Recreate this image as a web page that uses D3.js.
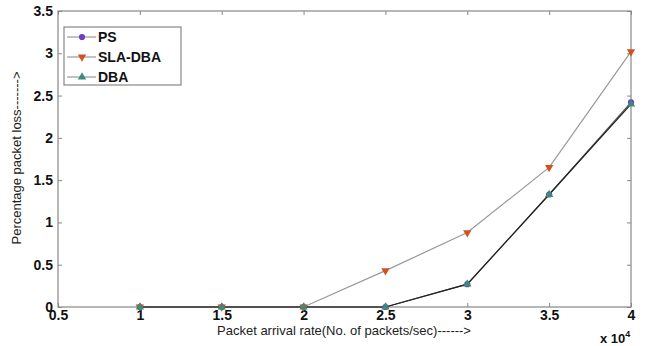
<!DOCTYPE html>
<html>
<head>
<meta charset="utf-8">
<script src="https://cdn.jsdelivr.net/npm/d3@7"></script>
<style>
body { margin: 0; background: #fff; }
text { font-family: Arial, "Liberation Sans", sans-serif; }
</style>
</head>
<body>
<svg id="chart" width="646" height="346" viewBox="0 0 646 346"></svg>
<script>
let xValues = [1, 1.5, 2, 2.5, 3, 3.5, 4];
let psLoss = [0, 0, 0, 0, 0.27, 1.33, 2.42];
let slaLoss = [0, 0, 0, 0.43, 0.88, 1.65, 3.02];
let dbaLoss = [0, 0, 0, 0, 0.27, 1.33, 2.40];
let xTicks = [0.5, 1, 1.5, 2, 2.5, 3, 3.5, 4];
let yTicks = [0, 0.5, 1, 1.5, 2, 2.5, 3, 3.5];

let series = [
    {name: "PS", values: psLoss, color: "#6b3fc0", line: "#555", symbol: d3.symbolCircle},
    {name: "SLA-DBA", values: slaLoss, color: "#d4501c", line: "#999", symbol: d3.symbolTriangle, flip: true},
    {name: "DBA", values: dbaLoss, color: "#3c8a7a", line: "#222", symbol: d3.symbolTriangle}
];

let chart = d3.select("#chart");
let margins = {top: 11, right: 15, bottom: 39, left: 58};
let innerWidth = 646 - margins.left - margins.right;
let innerHeight = 346 - margins.top - margins.bottom;

let x = d3.scaleLinear([0.5, 4], [0, innerWidth]);
let y = d3.scaleLinear([0, 3.5], [innerHeight, 0]);

let g = chart.append("g").attr("transform", `translate(${margins.left},${margins.top})`);

g.append("rect")
    .attr("width", innerWidth).attr("height", innerHeight)
    .attr("fill", "white").attr("stroke", "#888").attr("stroke-width", 1.2);

// inward ticks on all four sides
function styleAxis(sel) {
    sel.select(".domain").remove();
    sel.selectAll(".tick line").attr("stroke", "#888");
    sel.selectAll(".tick text").attr("font-size", 14).attr("font-weight", "bold").attr("fill", "#111");
}
g.append("g").attr("transform", `translate(0,${innerHeight})`)
    .call(d3.axisBottom(x).tickValues(xTicks).tickSize(-4).tickPadding(3).tickFormat(d3.format("")))
    .call(styleAxis);
g.append("g")
    .call(d3.axisTop(x).tickValues(xTicks).tickSize(-4).tickFormat(""))
    .call(styleAxis);
g.append("g")
    .call(d3.axisLeft(y).tickValues(yTicks).tickSize(-4).tickPadding(5).tickFormat(d3.format("")))
    .call(styleAxis);
g.append("g").attr("transform", `translate(${innerWidth},0)`)
    .call(d3.axisRight(y).tickValues(yTicks).tickSize(-4).tickFormat(""))
    .call(styleAxis);

let lineGen = d3.line().x((d, i) => x(xValues[i])).y(d => y(d));

// draw SLA-DBA first, then PS and DBA on top
[series[1], series[0], series[2]].forEach(s => {
    g.append("path").datum(s.values)
        .attr("d", lineGen)
        .attr("fill", "none")
        .attr("stroke", s.line)
        .attr("stroke-width", 1.2);
});
series.forEach(s => {
    g.selectAll(null).data(s.values).enter().append("path")
        .attr("d", d3.symbol(s.symbol, 30))
        .attr("transform", (d, i) => `translate(${x(xValues[i])},${y(d)})${s.flip ? " rotate(180)" : ""}`)
        .attr("fill", s.color);
});

// legend
let legend = g.append("g").attr("transform", "translate(6,16)");
legend.append("rect")
    .attr("width", 117).attr("height", 58)
    .attr("fill", "white").attr("stroke", "#888").attr("stroke-width", 1.2);
series.forEach((s, i) => {
    let row = legend.append("g").attr("transform", `translate(0,${10 + i * 20})`);
    row.append("line").attr("x1", 3).attr("x2", 32).attr("stroke", "#999").attr("stroke-width", 1.2);
    row.append("path")
        .attr("d", d3.symbol(s.symbol, 30))
        .attr("transform", `translate(18,0)${s.flip ? " rotate(180)" : ""}`)
        .attr("fill", s.color);
    row.append("text").attr("x", 34).attr("y", 5)
        .attr("font-size", 14).attr("font-weight", "bold").attr("fill", "#111")
        .text(s.name);
});

// axis titles
chart.append("text")
    .attr("x", 344).attr("y", 335)
    .attr("text-anchor", "middle").attr("font-size", 13).attr("fill", "#222")
    .text("Packet arrival rate(No. of packets/sec)------>");
chart.append("text")
    .attr("transform", "translate(21,158) rotate(-90)")
    .attr("text-anchor", "middle").attr("font-size", 13).attr("fill", "#222")
    .text("Percentage packet loss------->");
let exp = chart.append("text")
    .attr("x", 600).attr("y", 343)
    .attr("font-size", 13).attr("font-weight", "bold").attr("fill", "#111");
exp.append("tspan").text("x 10");
exp.append("tspan").attr("dy", -6).attr("font-size", 9).text("4");
</script>
</body>
</html>
